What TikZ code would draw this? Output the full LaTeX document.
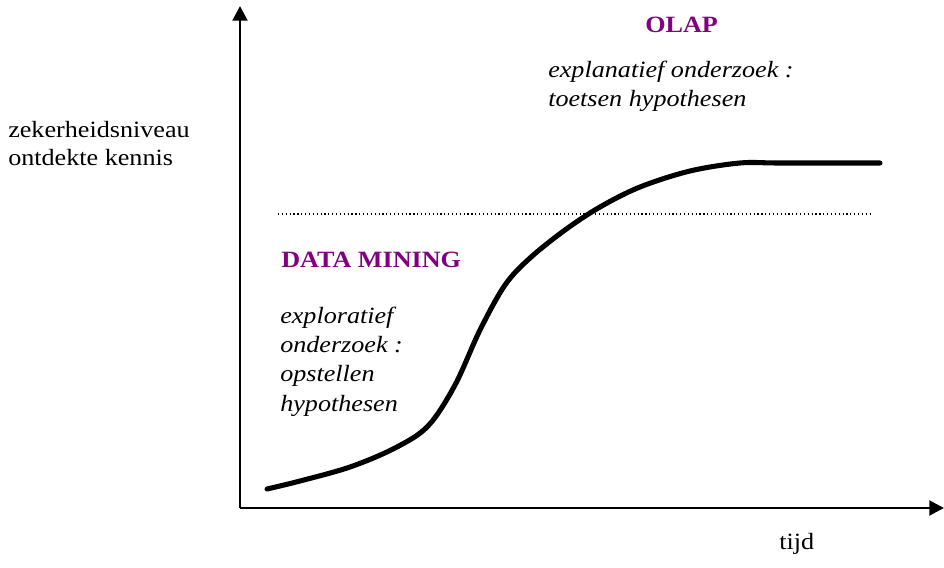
\documentclass[tikz,border=0pt]{standalone}
\usepackage{fontspec}
\setmainfont{Liberation Serif}[FakeStretch=1.12]
\usetikzlibrary{arrows.meta}
\definecolor{dmpurple}{RGB}{128,0,128}
\begin{document}
\begin{tikzpicture}[x=0.75pt,y=-0.75pt,
  axis/.style={line width=2.2pt,-{Triangle[length=11pt,width=11pt]}},
  curve/.style={line width=3.8pt,line cap=round,line join=round},
  levelline/.style={line width=0.9pt,dotted},
  txt/.style={font=\fontsize{17.5}{21}\selectfont,inner sep=0pt,anchor=base west,align=left},
  itxt/.style={txt,font=\fontsize{17.5}{21}\selectfont\itshape},
  head/.style={txt,font=\fontsize{17.5}{21}\selectfont\bfseries,text=dmpurple}]
\useasboundingbox (0,0) rectangle (944,567);
\coordinate (o) at (240,508);
\coordinate (ytop) at (240,6);
\coordinate (xend) at (944,508);
\draw[axis] (o) -- (ytop);
\draw[axis] (o) -- (xend);
\coordinate (l1) at (278,214);
\coordinate (l2) at (873,214);
\draw[levelline] (l1) -- (l2);
\draw[curve] plot[smooth,tension=0.55] coordinates {(267,489) (300,481) (350,467) (395,448) (428,426) (455,385) (480,330) (505,285) (530,258) (565,230) (600,207) (640,187) (690,171) (740,163) (780,163) (880,163)};
\node[head] (olap) at (645,33) {OLAP};
\node[itxt] (expl) at (548,106) {explanatief onderzoek :\\toetsen hypothesen};
\node[txt] (yl) at (8,165) {zekerheidsniveau\\ontdekte kennis};
\node[head] (dm) at (281,267) {DATA MINING};
\node[itxt,font=\fontsize{17.5}{21.8}\selectfont\itshape] (explo) at (280,411) {exploratief\\onderzoek :\\opstellen\\hypothesen};
\node[txt] (tijd) at (779,549) {tijd};
\end{tikzpicture}
\end{document}
